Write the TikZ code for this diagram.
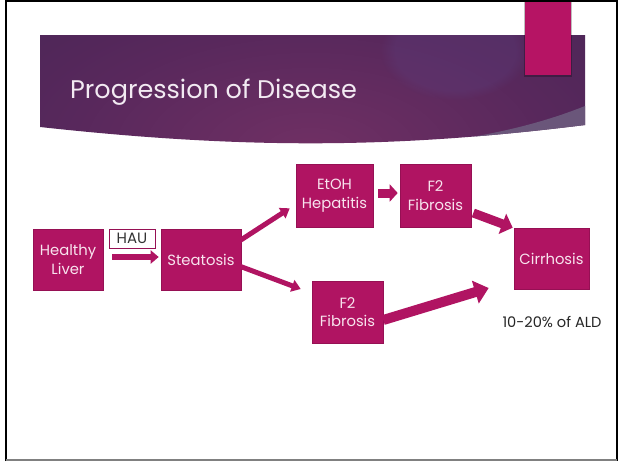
\documentclass[tikz,border=0pt]{standalone}
\usepackage{fontspec}
\setmainfont{Poppins}
\usetikzlibrary{arrows.meta,calc,fadings}
\definecolor{mag}{RGB}{176,20,98}
\definecolor{magedge}{RGB}{150,16,84}
\definecolor{pinkbar}{RGB}{182,20,100}
\definecolor{boxtext}{RGB}{248,228,238}
\definecolor{bdark}{RGB}{58,35,80}
\definecolor{bmid}{RGB}{112,48,100}
\definecolor{bmidtwo}{RGB}{88,40,92}
\definecolor{glow}{RGB}{92,62,125}
\definecolor{wedge}{RGB}{106,86,122}
\definecolor{titlecol}{RGB}{242,234,242}
\pgfdeclareradialshading{bannershade}{\pgfpoint{0bp}{0bp}}{color(0bp)=(bmid); color(12bp)=(bmidtwo); color(32bp)=(bdark); color(50bp)=(bdark)}
\tikzset{
  box/.style={fill=mag, draw=magedge, line width=0.6pt, text=boxtext, align=center,
    inner sep=0pt, font=\fontsize{14.8}{18.5}\selectfont},
  barrow/.style={draw=mag, line width=#1},
}
\begin{document}
\begin{tikzpicture}[x=1pt,y=-1pt]
\useasboundingbox (0,0) rectangle (618,461);
\fill[white] (0,0) rectangle (618,461);
% banner
\begin{scope}
  \clip (40,35) -- (585,35) -- (585,125) .. controls (400,148) and (250,150) .. (40,127) -- cycle;
  \shade[shading=bannershade] (-190,-100) rectangle (810,400);
  \fill[glow, path fading=circle with fuzzy edge 20 percent, opacity=0.35] (455,50) ellipse (75pt and 50pt);
  \fill[wedge] (585,106) .. controls (520,132) and (450,143) .. (350,152) -- (350,170) -- (600,170) -- cycle;
\end{scope}
% pink bar
\fill[black, opacity=0.25] (523.5,0) rectangle (572,76.5);
\fill[pinkbar] (525,0) rectangle (571,75);
% frame
\draw[black, line width=2.4pt] (6,461) -- (6,1.2) -- (616.8,1.2) -- (616.8,461);
\draw[gray, line width=1.4pt] (6,459.8) -- (616.8,459.8);
% title
\node[anchor=base west, text=titlecol, inner sep=0pt, font=\fontsize{25.5}{30}\selectfont] (title) at (70,98) {Progression of Disease};
% nodes
\node[box, minimum width=70pt, minimum height=61pt] (healthy) at (68,259.5) {Healthy\\Liver};
\node[fill=white, draw=magedge, line width=0.8pt, inner sep=0pt, minimum width=46pt, minimum height=19pt, text=black!80, font=\fontsize{15}{17}\selectfont] (hau) at (132,238.5) {HAU};
\node[box, minimum width=80pt, minimum height=61pt] (steat) at (201,259.5) {Steatosis};
\node[box, minimum width=77pt, minimum height=63pt] (etoh) at (334.5,195.5) {EtOH\\Hepatitis};
\node[box, minimum width=71pt, minimum height=63pt] (f2top) at (435.5,195.5) {F2\\Fibrosis};
\node[box, minimum width=75pt, minimum height=61pt] (cirr) at (551.5,258.5) {Cirrhosis};
\node[box, minimum width=71pt, minimum height=62pt] (f2bot) at (347.5,312) {F2\\Fibrosis};
\node[anchor=base, inner sep=0pt, text=black!85, font=\fontsize{14.6}{17}\selectfont] (ald) at (552,327) {10-20\% of ALD};
% arrows
\draw[barrow=6pt, -{Triangle[length=8pt,width=13pt]}] ($(healthy.east)+(9,-2.5)$) -- ($(steat.west)+(-2,-2.5)$);
\draw[barrow=5pt, -{Triangle[length=9pt,width=12pt]}] ($(steat.east)+(-2,-18.5)$) -- ($(etoh.south west)+(-6,-19)$);
\draw[barrow=5pt, -{Triangle[length=9pt,width=12pt]}] ($(steat.east)+(-2,6.5)$) -- ($(f2bot.west)+(-11,-23)$);
\draw[barrow=9pt, -{Triangle[length=8pt,width=17pt]}] ($(etoh.east)+(5,-2.5)$) -- ($(f2top.west)+(-2,-2.5)$);
\draw[barrow=9pt, -{Triangle[length=11pt,width=21pt]}] ($(f2top.east)+(2,17.5)$) -- ($(cirr.north west)+(-1,0)$);
\draw[barrow=10pt, -{Triangle[length=14pt,width=23pt]}] ($(f2bot.east)+(0,8)$) -- ($(cirr.west)+(-25,29.5)$);
\end{tikzpicture}
\end{document}
